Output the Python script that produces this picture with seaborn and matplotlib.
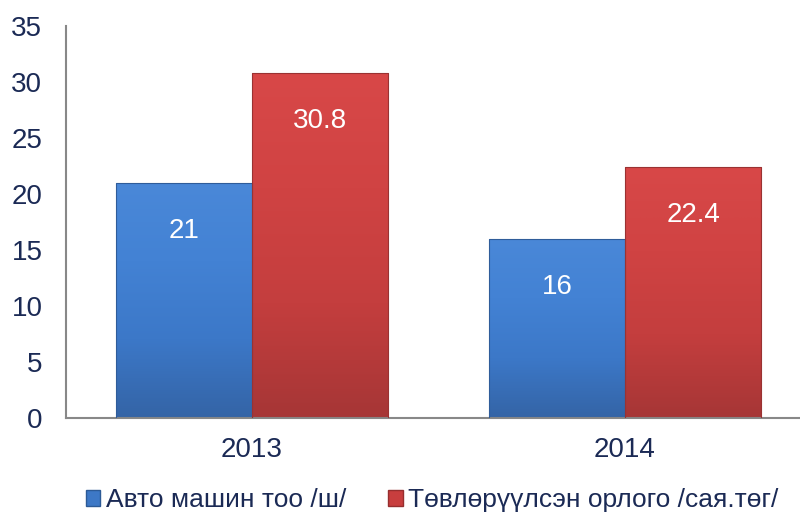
import matplotlib
matplotlib.use("Agg")
import matplotlib.pyplot as plt
import seaborn as sns
import numpy as np
import pandas as pd
from matplotlib.colors import LinearSegmentedColormap
from matplotlib.patches import Patch

years = ["2013", "2014"]
series_names = ["Авто машин тоо /ш/", "Төвлөрүүлсэн орлого /сая.төг/"]
cars = [21, 16]
revenue = [30.8, 22.4]
value_labels_cars = ["21", "16"]
value_labels_rev = ["30.8", "22.4"]
y_ticks = [0, 5, 10, 15, 20, 25, 30, 35]

df = pd.DataFrame({
    "year": years * 2,
    "series": [series_names[0]] * 2 + [series_names[1]] * 2,
    "value": cars + revenue,
})

sns.set_theme(style="white")
plt.rcParams['font.family'] = ['Liberation Sans', 'DejaVu Sans']

fig = plt.figure(figsize=(8.0, 5.14), dpi=100)
ax = fig.add_axes([66 / 800, 1 - 418 / 514, (800 - 66) / 800, (418 - 26) / 514])

base_colors = {series_names[0]: "#4080D0", series_names[1]: "#D24242"}
sns.barplot(data=df, x="year", y="value", hue="series", order=years,
            hue_order=series_names, palette=base_colors, width=0.73,
            saturation=1, ax=ax, legend=False)

grads = [
    LinearSegmentedColormap.from_list("b", ["#3464A6", "#3C78C8", "#4382D4", "#4A88D8"]),
    LinearSegmentedColormap.from_list("r", ["#A63636", "#C43E3E", "#D04343", "#D84848"]),
]
edge_cols = ["#2F5C9A", "#9A3232"]
text_labels = [value_labels_cars, value_labels_rev]

for si, cont in enumerate(ax.containers):
    for bi, patch in enumerate(cont.patches):
        x0, y0 = patch.get_x(), patch.get_y()
        w, h = patch.get_width(), patch.get_height()
        patch.set_edgecolor(edge_cols[si])
        patch.set_linewidth(0.8)
        patch.set_zorder(3)
        patch.set_facecolor("none")
        grad = np.linspace(0, 1, 256).reshape(-1, 1)
        im = ax.imshow(grad, cmap=grads[si], aspect="auto", origin="lower",
                       extent=[x0, x0 + w, y0, y0 + h], zorder=2,
                       interpolation="bilinear")
        im.set_clip_path(patch)
        ax.text(x0 + w / 2, y0 + h - 4.3, text_labels[si][bi], color="white",
                ha="center", va="center", fontsize=20, zorder=5)

ax.set_xlim(-0.4987, 1.469)
ax.set_ylim(0, 35)
ax.set_yticks(y_ticks)
ax.set_yticklabels([str(t) for t in y_ticks])
ax.set_xlabel("")
ax.set_ylabel("")
ax.tick_params(axis="both", labelsize=20, length=0)
ax.tick_params(axis="y", pad=17)
ax.tick_params(axis="x", pad=14)
for lab in ax.get_yticklabels() + ax.get_xticklabels():
    lab.set_color("#1B2A55")
for s in ["top", "right"]:
    ax.spines[s].set_visible(False)
for s in ["left", "bottom"]:
    ax.spines[s].set_color("#888888")
    ax.spines[s].set_linewidth(1.5)
ax.set_facecolor("white")

handles = [Patch(facecolor="#3D78C6", edgecolor="#2C5A96"),
           Patch(facecolor="#C83E3E", edgecolor="#962E2E")]
fig.legend(handles, series_names, loc="center", bbox_to_anchor=(0.54, 1 - 500 / 514),
           ncol=2, frameon=False, fontsize=19, handlelength=0.55, handleheight=0.55,
           handletextpad=0.2, columnspacing=1.6, labelcolor="#1B2A55")

fig.savefig("out.png", dpi=100, facecolor="white")
